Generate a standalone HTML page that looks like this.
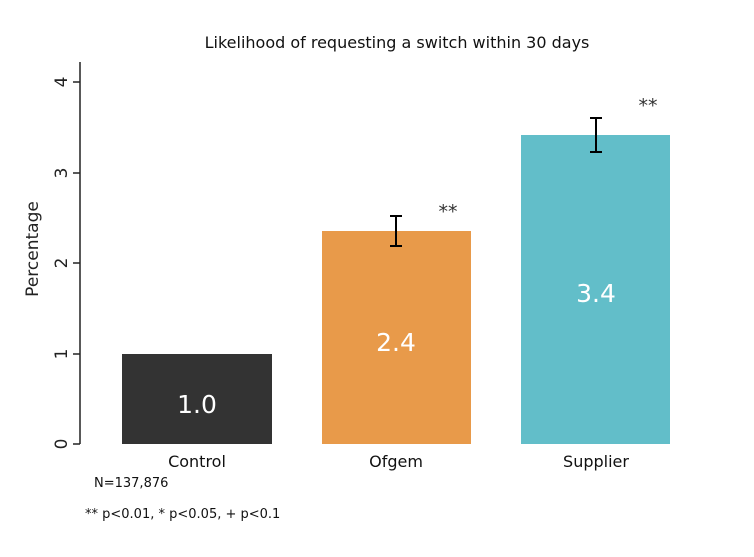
<!DOCTYPE html>
<html><head><style>body{margin:0;background:#fff}svg{display:block}text{font-family:"DejaVu Sans","Liberation Sans",sans-serif}</style></head>
<body>
<svg width="754" height="557" viewBox="0 0 754 557" xmlns="http://www.w3.org/2000/svg">
<rect width="754" height="557" fill="#fff"/>
<text x="397" y="48" font-size="16" text-anchor="middle" fill="#111">Likelihood of requesting a switch within 30 days</text>
<line x1="80" y1="62" x2="80" y2="444" stroke="#222" stroke-width="1.5"/>
<g stroke="#222" stroke-width="1.5">
<line x1="73" y1="444" x2="80" y2="444"/><line x1="73" y1="354" x2="80" y2="354"/><line x1="73" y1="263" x2="80" y2="263"/><line x1="73" y1="173" x2="80" y2="173"/><line x1="73" y1="82" x2="80" y2="82"/>
</g>
<g font-size="17" fill="#222" text-anchor="middle">
<text transform="translate(67,444) rotate(-90)">0</text>
<text transform="translate(67,354) rotate(-90)">1</text>
<text transform="translate(67,263) rotate(-90)">2</text>
<text transform="translate(67,173) rotate(-90)">3</text>
<text transform="translate(67,82) rotate(-90)">4</text>
<text transform="translate(38,249) rotate(-90)">Percentage</text>
</g>
<rect x="122" y="354" width="150" height="90" fill="#333333"/>
<rect x="322" y="231" width="149" height="213" fill="#e89a4a"/>
<rect x="521" y="135" width="149" height="309" fill="#62bec9"/>
<g stroke="#000" stroke-width="2">
<line x1="396" y1="216" x2="396" y2="246"/><line x1="390" y1="216" x2="402" y2="216"/><line x1="390" y1="246" x2="402" y2="246"/>
<line x1="596" y1="118" x2="596" y2="152"/><line x1="590" y1="118" x2="602" y2="118"/><line x1="590" y1="152" x2="602" y2="152"/>
</g>
<g font-size="19" fill="#333" text-anchor="middle">
<text x="448" y="218">**</text><text x="648" y="112">**</text>
</g>
<g font-size="25" fill="#fff" text-anchor="middle">
<text x="197" y="413">1.0</text><text x="396" y="351">2.4</text><text x="596" y="302">3.4</text>
</g>
<g font-size="16" fill="#111" text-anchor="middle">
<text x="197" y="467">Control</text><text x="396" y="467">Ofgem</text><text x="596" y="467">Supplier</text>
</g>
<text x="94" y="487" font-size="13" fill="#111">N=137,876</text>
<text x="85" y="518" font-size="13" fill="#111">** p&lt;0.01, * p&lt;0.05, + p&lt;0.1</text>
</svg>
</body></html>
